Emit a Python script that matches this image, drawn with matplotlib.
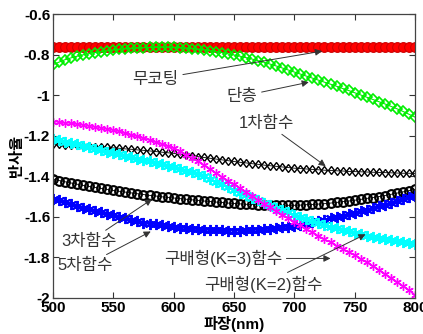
import numpy as np
import matplotlib
matplotlib.use('Agg')
import matplotlib.pyplot as plt

# 파장 (nm), 5 nm 간격
wavelength = np.arange(500, 801, 5)

# 반사율 곡선
no_coating = [-0.765] * 61

single_layer = [
    -0.850, -0.837, -0.825, -0.816, -0.808, -0.801, -0.795, -0.790, -0.785, -0.781,
    -0.777, -0.774, -0.771, -0.769, -0.767, -0.766, -0.765, -0.764, -0.764, -0.764,
    -0.765, -0.766, -0.768, -0.770, -0.773, -0.776, -0.780, -0.785, -0.790, -0.796,
    -0.802, -0.808, -0.815, -0.822, -0.830, -0.838, -0.847, -0.856, -0.866, -0.876,
    -0.886, -0.896, -0.906, -0.916, -0.926, -0.936, -0.946, -0.956, -0.967, -0.977,
    -0.988, -0.999, -1.010, -1.021, -1.032, -1.043, -1.055, -1.067, -1.080, -1.094,
    -1.108]

linear_fn = [
    -1.240, -1.242, -1.244, -1.246, -1.248, -1.250, -1.252, -1.254, -1.256, -1.258,
    -1.260, -1.262, -1.265, -1.267, -1.270, -1.272, -1.275, -1.278, -1.281, -1.284,
    -1.287, -1.291, -1.295, -1.299, -1.303, -1.307, -1.311, -1.315, -1.319, -1.323,
    -1.327, -1.331, -1.334, -1.338, -1.341, -1.345, -1.348, -1.351, -1.354, -1.357,
    -1.360, -1.362, -1.364, -1.366, -1.368, -1.370, -1.371, -1.373, -1.374, -1.376,
    -1.377, -1.378, -1.379, -1.380, -1.381, -1.382, -1.383, -1.384, -1.385, -1.385,
    -1.386]

cubic_fn = [
    -1.415, -1.421, -1.427, -1.433, -1.439, -1.445, -1.450, -1.455, -1.460, -1.465,
    -1.470, -1.474, -1.478, -1.482, -1.486, -1.490, -1.494, -1.497, -1.501, -1.504,
    -1.507, -1.510, -1.513, -1.516, -1.519, -1.522, -1.524, -1.527, -1.529, -1.532,
    -1.534, -1.536, -1.538, -1.539, -1.541, -1.542, -1.543, -1.543, -1.543, -1.543,
    -1.543, -1.542, -1.540, -1.539, -1.537, -1.535, -1.532, -1.529, -1.525, -1.522,
    -1.518, -1.514, -1.509, -1.505, -1.500, -1.495, -1.489, -1.483, -1.477, -1.471,
    -1.465]

quintic_fn = [
    -1.510, -1.519, -1.528, -1.537, -1.546, -1.555, -1.563, -1.570, -1.578, -1.585,
    -1.592, -1.600, -1.608, -1.615, -1.622, -1.628, -1.633, -1.637, -1.642, -1.646,
    -1.650, -1.653, -1.656, -1.659, -1.661, -1.663, -1.665, -1.666, -1.667, -1.668,
    -1.668, -1.668, -1.667, -1.665, -1.664, -1.662, -1.659, -1.656, -1.652, -1.649,
    -1.645, -1.639, -1.633, -1.627, -1.621, -1.615, -1.608, -1.601, -1.594, -1.587,
    -1.580, -1.572, -1.564, -1.556, -1.548, -1.540, -1.531, -1.522, -1.513, -1.504,
    -1.495]

grad_k2 = [
    -1.215, -1.222, -1.229, -1.236, -1.243, -1.250, -1.257, -1.264, -1.271, -1.278,
    -1.285, -1.292, -1.299, -1.306, -1.313, -1.320, -1.327, -1.334, -1.341, -1.348,
    -1.355, -1.363, -1.372, -1.381, -1.390, -1.400, -1.412, -1.426, -1.440, -1.455,
    -1.470, -1.482, -1.494, -1.506, -1.518, -1.530, -1.542, -1.554, -1.566, -1.578,
    -1.590, -1.600, -1.610, -1.620, -1.630, -1.640, -1.648, -1.656, -1.664, -1.672,
    -1.680, -1.686, -1.692, -1.698, -1.704, -1.710, -1.715, -1.720, -1.725, -1.730,
    -1.735]

grad_k3 = [
    -1.130, -1.133, -1.136, -1.139, -1.142, -1.145, -1.150, -1.155, -1.160, -1.165,
    -1.170, -1.178, -1.186, -1.194, -1.202, -1.210, -1.220, -1.230, -1.240, -1.250,
    -1.260, -1.276, -1.293, -1.310, -1.327, -1.345, -1.364, -1.383, -1.402, -1.421,
    -1.440, -1.459, -1.478, -1.497, -1.516, -1.535, -1.553, -1.571, -1.589, -1.607,
    -1.625, -1.642, -1.659, -1.676, -1.693, -1.710, -1.726, -1.742, -1.758, -1.774,
    -1.790, -1.807, -1.825, -1.843, -1.861, -1.880, -1.900, -1.920, -1.941, -1.963,
    -1.985]

xticks = [500, 550, 600, 650, 700, 750, 800]
yticks = [-2, -1.8, -1.6, -1.4, -1.2, -1, -0.8, -0.6]
ytick_labels = ['-2', '-1.8', '-1.6', '-1.4', '-1.2', '-1', '-0.8', '-0.6']

kr = ['Liberation Sans', 'Noto Sans CJK KR']
aster = (6, 2, 0)

fig = plt.figure(figsize=(4.23, 3.34), dpi=100)
ax = fig.add_axes([0.1253, 0.1078, 0.8557, 0.8502])

ax.plot(wavelength, no_coating, color='red', marker='o', ms=7, mfc='red', mec='#cc0000', mew=0.8, lw=1)
ax.plot(wavelength, single_layer, color='#00ee00', marker='D', ms=4.8, mfc='none', mew=1.2, lw=0.8)
ax.plot(wavelength, linear_fn, color='black', marker='d', ms=4.5, mfc='none', mew=1.0, lw=0.6)
ax.plot(wavelength, cubic_fn, color='black', marker='o', ms=6.3, mfc='none', mew=1.5, lw=0.6)
ax.plot(wavelength, quintic_fn, color='blue', marker=aster, ms=8, mew=1.4, lw=1.2)
ax.plot(wavelength, grad_k2, color='cyan', marker=aster, ms=8, mew=1.4, lw=1.2)
ax.plot(wavelength, grad_k3, color='magenta', marker=aster, ms=6, mew=1.0, lw=0.8)

ax.set_xlim(500, 800)
ax.set_ylim(-2, -0.6)
ax.set_xticks(xticks)
ax.set_xticklabels([str(t) for t in xticks])
ax.set_yticks(yticks)
ax.set_yticklabels(ytick_labels)
ax.tick_params(direction='in', top=True, right=True, length=4, width=0.8,
               colors='#333333', labelcolor='black', labelsize=11, pad=2)
for lab in ax.get_xticklabels() + ax.get_yticklabels():
    lab.set_fontweight('bold')
    lab.set_family('Liberation Sans')
for sp in ax.spines.values():
    sp.set_color('#444444')
    sp.set_linewidth(0.9)

ax.set_xlabel('파장(nm)', family=kr, fontsize=11, fontweight='bold', labelpad=1)
ax.set_ylabel('반사율', family=kr, fontsize=11, fontweight='bold', labelpad=0)

arrow = dict(arrowstyle='-|>', color='#333333', lw=0.7, mutation_scale=10, shrinkA=1, shrinkB=0)
fs = 12
ax.annotate('무코팅', xy=(723, -0.783), xytext=(566, -0.921), family=kr, fontsize=fs,
            va='center', color='#333333', arrowprops=arrow)
ax.annotate('단층', xy=(712, -0.936), xytext=(644, -1.005), family=kr, fontsize=fs,
            va='center', color='#333333', arrowprops=arrow)
ax.annotate('1차함수', xy=(726, -1.35), xytext=(654, -1.138), family=kr, fontsize=fs,
            va='center', color='#333333', arrowprops=arrow)
ax.annotate('3차함수', xy=(582, -1.513), xytext=(507, -1.721), family=kr, fontsize=fs,
            va='center', color='#333333', arrowprops=arrow)
ax.annotate('5차함수', xy=(581, -1.672), xytext=(504, -1.84), family=kr, fontsize=fs,
            va='center', color='#333333', arrowprops=arrow)
ax.annotate('구배형(K=3)함수', xy=(730, -1.805), xytext=(592, -1.805), family=kr, fontsize=fs,
            va='center', color='#333333', arrowprops=arrow)
ax.annotate('구배형(K=2)함수', xy=(759, -1.686), xytext=(625, -1.933), family=kr, fontsize=fs,
            va='center', color='#333333', arrowprops=arrow)

fig.savefig('out.png', dpi=100)
